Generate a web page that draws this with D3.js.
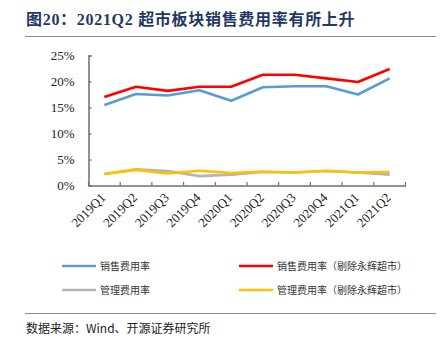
<!DOCTYPE html>
<html>
<head>
<meta charset="utf-8">
<script src="https://cdn.jsdelivr.net/npm/d3@7"></script>
<style>
  html, body { margin: 0; padding: 0; background: #fff; }
  svg { display: block; }
</style>
</head>
<body>
<svg id="chart" width="445" height="345"></svg>
<script>
// Quarterly expense ratios for the supermarket sector (%)
const quarters = ["2019Q1","2019Q2","2019Q3","2019Q4","2020Q1","2020Q2","2020Q3","2020Q4","2021Q1","2021Q2"];
const sellingRate      = [15.5, 17.6, 17.3, 18.3, 16.3, 18.9, 19.1, 19.1, 17.5, 20.6];
const sellingRateExYH  = [17.0, 19.0, 18.2, 19.0, 19.0, 21.3, 21.3, 20.6, 19.9, 22.4];
const adminRate        = [2.2, 3.1, 2.8, 1.8, 2.1, 2.6, 2.5, 2.8, 2.5, 2.1];
const adminRateExYH    = [2.2, 3.0, 2.3, 2.85, 2.4, 2.7, 2.5, 2.85, 2.5, 2.6];
const yTicks = [0, 5, 10, 15, 20, 25];

const seriesNames = ["销售费用率", "销售费用率（剔除永辉超市）", "管理费用率", "管理费用率（剔除永辉超市）"];
const seriesColors = ["#5B9BD5", "#FF0000", "#B4B4B4", "#FFC000"];
const seriesData = [sellingRate, sellingRateExYH, adminRate, adminRateExYH];

const svg = d3.select("#chart");
const serif = "'Liberation Serif', 'Times New Roman', 'Noto Sans CJK SC', serif";
const cjk = "'Noto Sans CJK SC', sans-serif";

// Title and rules
svg.append("text")
  .attr("x", 26).attr("y", 25)
  .attr("font-family", serif)
  .attr("font-weight", "bold")
  .attr("font-size", 16)
  .attr("letter-spacing", 0.7)
  .attr("fill", "#1F3864")
  .text("图20：2021Q2 超市板块销售费用率有所上升");
svg.append("line").attr("x1", 25).attr("x2", 436).attr("y1", 36.5).attr("y2", 36.5)
  .attr("stroke", "#8c8c8c").attr("stroke-width", 1.2);
svg.append("line").attr("x1", 25).attr("x2", 436).attr("y1", 313.5).attr("y2", 313.5)
  .attr("stroke", "#8c8c8c").attr("stroke-width", 1.2);
svg.append("text")
  .attr("x", 26).attr("y", 333)
  .attr("font-family", cjk)
  .attr("font-size", 12)
  .attr("fill", "#222")
  .text("数据来源：Wind、开源证券研究所");

// Plot area
const x0 = 88.5, x1 = 405.5, yTop = 55.5, yBot = 185.5;
const x = d3.scaleBand().domain(quarters).range([x0, x1]);
const y = d3.scaleLinear().domain([0, 25]).range([yBot, yTop]);

const axisColor = "#6e6e6e";

// Y axis
const yAxis = svg.append("g").attr("transform", `translate(${x0},0)`)
  .call(d3.axisLeft(y).tickValues(yTicks).tickSize(-3).tickPadding(14).tickFormat(d => d + "%"));
yAxis.select(".domain").attr("stroke", axisColor).attr("stroke-width", 1.5);
yAxis.selectAll(".tick line").attr("stroke", axisColor).attr("stroke-width", 1.2);
yAxis.selectAll("text").attr("font-family", serif).attr("font-size", 13).attr("fill", "#222");

// X axis
const xAxis = svg.append("g").attr("transform", `translate(0,${yBot})`)
  .call(d3.axisBottom(x).tickSize(0).tickFormat(""));
xAxis.select(".domain").attr("stroke", axisColor).attr("stroke-width", 1.5);
// category boundary ticks pointing inward
const bounds = quarters.map(q => x(q)).concat([x1]);
svg.append("g").selectAll("line").data(bounds).join("line")
  .attr("x1", d => d).attr("x2", d => d)
  .attr("y1", yBot).attr("y2", yBot - 3.5)
  .attr("stroke", axisColor).attr("stroke-width", 1.2);

// Rotated category labels
svg.append("g").selectAll("text").data(quarters).join("text")
  .attr("transform", d => `translate(${x(d) + x.bandwidth() / 2 + 2},${yBot + 13}) rotate(-45)`)
  .attr("text-anchor", "end")
  .attr("font-family", serif)
  .attr("font-size", 13)
  .attr("fill", "#222")
  .text(d => d);

// Series lines (drawn so the key series sit on top)
const line = d3.line()
  .x((d, i) => x(quarters[i]) + x.bandwidth() / 2)
  .y(d => y(d));
const drawOrder = [2, 3, 0, 1];
drawOrder.forEach(k => {
  svg.append("path")
    .datum(seriesData[k])
    .attr("d", line)
    .attr("fill", "none")
    .attr("stroke", seriesColors[k])
    .attr("stroke-width", 2.6)
    .attr("stroke-linejoin", "round");
});

// Legend
const legendPos = [[62, 266], [239, 266], [62, 290], [239, 290]];
seriesNames.forEach((name, k) => {
  const [lx, ly] = legendPos[k];
  svg.append("line")
    .attr("x1", lx).attr("x2", lx + 34).attr("y1", ly).attr("y2", ly)
    .attr("stroke", seriesColors[k]).attr("stroke-width", 2.6);
  svg.append("text")
    .attr("x", lx + 38).attr("y", ly + 3.5)
    .attr("font-family", cjk)
    .attr("font-size", 10)
    .attr("fill", "#333")
    .text(name);
});
</script>
</body>
</html>
